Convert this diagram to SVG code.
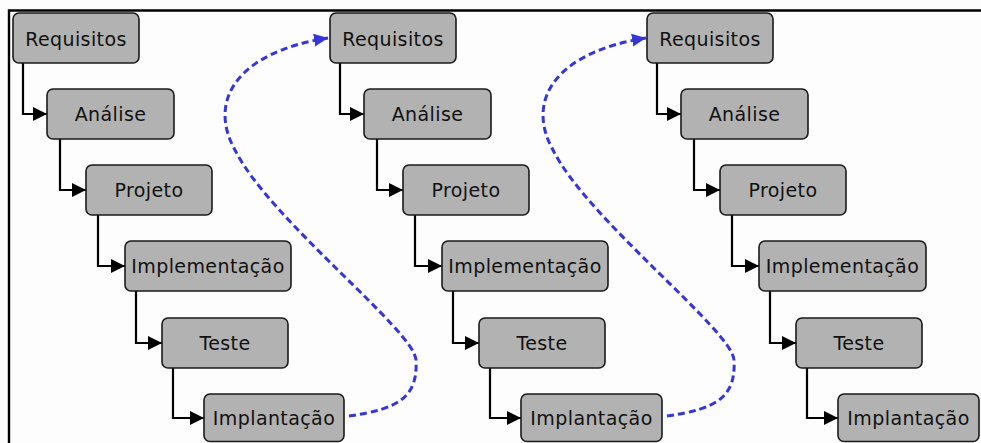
<svg xmlns="http://www.w3.org/2000/svg" width="981" height="443" viewBox="0 0 981 443">
  <style>
    .box rect { fill: #b2b2b2; stroke: #1a1a1a; stroke-width: 1.6; }
    .box text { font-family: "DejaVu Sans", "Liberation Sans", sans-serif; font-size: 19px; letter-spacing: 0.4px; fill: #111; text-anchor: middle; }
    .step { fill: none; stroke: #000; stroke-width: 2.2; marker-end: url(#arrowBlack); }
    .loop { fill: none; stroke: #3535d8; stroke-width: 3; stroke-dasharray: 7 4; marker-end: url(#arrowBlue); }
  </style>
  <defs>
    <marker id="arrowBlack" markerUnits="userSpaceOnUse" markerWidth="16" markerHeight="16" refX="14" refY="8" orient="auto">
      <path d="M0,1 L14,8 L0,15 Z" fill="#000"/>
    </marker>
    <marker id="arrowBlue" markerUnits="userSpaceOnUse" markerWidth="16" markerHeight="16" refX="14" refY="8" orient="auto">
      <path d="M0,1.5 L14,8 L0,14.5 Z" fill="#3535d8"/>
    </marker>
  </defs>

  <rect x="0" y="0" width="981" height="443" fill="#fdfdfd"/>
  <!-- frame -->
  <path d="M9,443 V10.5 H981" fill="none" stroke="#000" stroke-width="2.4"/>

  <!-- connectors -->
  <g id="connectors">
    <!-- cycle 1 -->
    <path class="step" d="M23,63 V114 H47"/>
    <path class="step" d="M60,139 V190 H86"/>
    <path class="step" d="M98,215 V266 H125"/>
    <path class="step" d="M136,291 V343 H162"/>
    <path class="step" d="M173,368 V418 H204"/>
    <!-- cycle 2 -->
    <path class="step" d="M340,63 V114 H364"/>
    <path class="step" d="M377,139 V190 H403"/>
    <path class="step" d="M415,215 V266 H442"/>
    <path class="step" d="M453,291 V343 H479"/>
    <path class="step" d="M490,368 V418 H521"/>
    <!-- cycle 3 -->
    <path class="step" d="M657,63 V114 H681"/>
    <path class="step" d="M694,139 V190 H720"/>
    <path class="step" d="M732,215 V266 H759"/>
    <path class="step" d="M770,291 V343 H796"/>
    <path class="step" d="M807,368 V418 H838"/>
    <!-- feedback loops -->
    <path class="loop" d="M349,416 C400,409 418,396 416,360 C414,330 270,220 235,150 C207,100 238,52 328,38"/>
    <path class="loop" d="M667,416 C718,409 736,396 734,360 C732,330 588,220 553,150 C525,100 556,52 646,38"/>
  </g>

  <!-- cycle 1 -->
  <g id="c1-requisitos" class="box"><rect x="13" y="13" width="126" height="50" rx="6"/><text x="76" y="46">Requisitos</text></g>
  <g id="c1-analise" class="box"><rect x="47" y="89" width="127" height="50" rx="6"/><text x="110.5" y="121">Análise</text></g>
  <g id="c1-projeto" class="box"><rect x="86" y="165" width="126" height="50" rx="6"/><text x="149" y="197">Projeto</text></g>
  <g id="c1-implementacao" class="box"><rect x="125" y="241" width="166" height="50" rx="6"/><text x="208" y="273">Implementação</text></g>
  <g id="c1-teste" class="box"><rect x="162" y="318" width="126" height="50" rx="6"/><text x="225" y="350">Teste</text></g>
  <g id="c1-implantacao" class="box"><rect x="204" y="394" width="140" height="47.5" rx="6"/><text x="274" y="425">Implantação</text></g>

  <!-- cycle 2 -->
  <g id="c2-requisitos" class="box"><rect x="330" y="13" width="126" height="50" rx="6"/><text x="393" y="46">Requisitos</text></g>
  <g id="c2-analise" class="box"><rect x="364" y="89" width="127" height="50" rx="6"/><text x="427.5" y="121">Análise</text></g>
  <g id="c2-projeto" class="box"><rect x="403" y="165" width="126" height="50" rx="6"/><text x="466" y="197">Projeto</text></g>
  <g id="c2-implementacao" class="box"><rect x="442" y="241" width="166" height="50" rx="6"/><text x="525" y="273">Implementação</text></g>
  <g id="c2-teste" class="box"><rect x="479" y="318" width="126" height="50" rx="6"/><text x="542" y="350">Teste</text></g>
  <g id="c2-implantacao" class="box"><rect x="521" y="394" width="141" height="47.5" rx="6"/><text x="591.5" y="425">Implantação</text></g>

  <!-- cycle 3 -->
  <g id="c3-requisitos" class="box"><rect x="647" y="13" width="126" height="50" rx="6"/><text x="710" y="46">Requisitos</text></g>
  <g id="c3-analise" class="box"><rect x="681" y="89" width="127" height="50" rx="6"/><text x="744.5" y="121">Análise</text></g>
  <g id="c3-projeto" class="box"><rect x="720" y="165" width="126" height="50" rx="6"/><text x="783" y="197">Projeto</text></g>
  <g id="c3-implementacao" class="box"><rect x="759" y="241" width="167" height="50" rx="6"/><text x="842.5" y="273">Implementação</text></g>
  <g id="c3-teste" class="box"><rect x="796" y="318" width="126" height="50" rx="6"/><text x="859" y="350">Teste</text></g>
  <g id="c3-implantacao" class="box"><rect x="838" y="394" width="141" height="47.5" rx="6"/><text x="908.5" y="425">Implantação</text></g>
</svg>
